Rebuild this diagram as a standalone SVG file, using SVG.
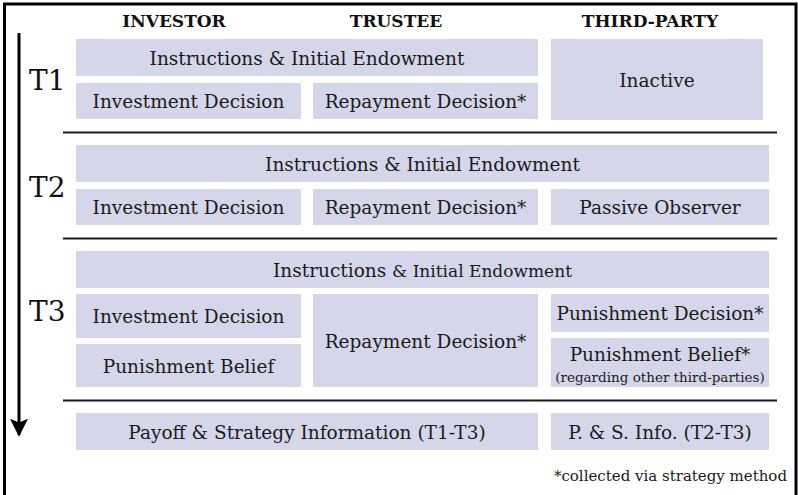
<svg xmlns="http://www.w3.org/2000/svg" width="798" height="495" viewBox="0 0 798 495">
  <style>
    .box { fill: #d6d6ea; }
    .lbl { font-family: "DejaVu Serif", "Liberation Serif", serif; font-size: 18.5px; fill: #1a1a1a; text-anchor: middle; }
    .hdr { font-family: "DejaVu Serif", "Liberation Serif", serif; font-size: 17px; font-weight: bold; fill: #111; text-anchor: middle; }
    .phase { font-family: "DejaVu Serif", "Liberation Serif", serif; font-size: 28px; fill: #111; }
    .small { font-family: "DejaVu Serif", "Liberation Serif", serif; font-size: 13.5px; fill: #1a1a1a; text-anchor: middle; }
    .note { font-family: "DejaVu Serif", "Liberation Serif", serif; font-size: 15px; fill: #1a1a1a; text-anchor: end; }
    .rule { stroke: #1a1a1a; stroke-width: 2; fill: none; }
  </style>
  <defs>
    <marker id="arrowhead" markerWidth="6" markerHeight="6" refX="5.4" refY="3" orient="auto" markerUnits="strokeWidth">
      <path d="M0,0 L6,3 L0,6 L1.2,3 Z" fill="#000"/>
    </marker>
  </defs>

  <rect width="798" height="495" fill="#fff"/>
  <!-- outer frame (open at the bottom) -->
  <path d="M4.5,495 V4 H796 V495" fill="none" stroke="#000" stroke-width="3"/>

  <!-- column headers -->
  <g id="headers">
    <text class="hdr" x="174" y="27">INVESTOR</text>
    <text class="hdr" x="396" y="27">TRUSTEE</text>
    <text class="hdr" x="650" y="27">THIRD-PARTY</text>
  </g>

  <!-- phase labels -->
  <g id="phases">
    <text class="phase" x="29" y="90">T1</text>
    <text class="phase" x="29" y="197">T2</text>
    <text class="phase" x="29" y="321">T3</text>
  </g>

  <!-- timeline arrow and phase dividers -->
  <g id="connectors">
    <line x1="19" y1="33" x2="19" y2="435" stroke="#000" stroke-width="3" marker-end="url(#arrowhead)"/>
    <line class="rule" x1="63" y1="132.5" x2="777" y2="132.5"/>
    <line class="rule" x1="63" y1="238.5" x2="777" y2="238.5"/>
    <line class="rule" x1="63" y1="400.5" x2="777" y2="400.5"/>
  </g>

  <!-- T1 -->
  <g id="t1-instructions">
    <rect class="box" x="76" y="39" width="462" height="37"/>
    <text class="lbl" x="307" y="64.5">Instructions &amp; Initial Endowment</text>
  </g>
  <g id="t1-investment">
    <rect class="box" x="76" y="83" width="225" height="36"/>
    <text class="lbl" x="188.5" y="108">Investment Decision</text>
  </g>
  <g id="t1-repayment">
    <rect class="box" x="313" y="83" width="225" height="36"/>
    <text class="lbl" x="425.5" y="108">Repayment Decision*</text>
  </g>
  <g id="t1-inactive">
    <rect class="box" x="551" y="39" width="212" height="81"/>
    <text class="lbl" x="657" y="86.5">Inactive</text>
  </g>

  <!-- T2 -->
  <g id="t2-instructions">
    <rect class="box" x="76" y="145" width="693" height="37"/>
    <text class="lbl" x="422.5" y="170.5">Instructions &amp; Initial Endowment</text>
  </g>
  <g id="t2-investment">
    <rect class="box" x="76" y="189" width="225" height="36"/>
    <text class="lbl" x="188.5" y="214">Investment Decision</text>
  </g>
  <g id="t2-repayment">
    <rect class="box" x="313" y="189" width="225" height="36"/>
    <text class="lbl" x="425.5" y="214">Repayment Decision*</text>
  </g>
  <g id="t2-observer">
    <rect class="box" x="551" y="189" width="218" height="36"/>
    <text class="lbl" x="660" y="214">Passive Observer</text>
  </g>

  <!-- T3 -->
  <g id="t3-instructions">
    <rect class="box" x="76" y="251" width="693" height="37"/>
    <text class="lbl" x="422.5" y="276.5">Instructions <tspan font-size="17">&amp; Initial Endowment</tspan></text>
  </g>
  <g id="t3-investment">
    <rect class="box" x="76" y="294" width="225" height="44"/>
    <text class="lbl" x="188.5" y="323">Investment Decision</text>
  </g>
  <g id="t3-belief-investor">
    <rect class="box" x="76" y="344" width="225" height="43"/>
    <text class="lbl" x="188.5" y="372.5">Punishment Belief</text>
  </g>
  <g id="t3-repayment">
    <rect class="box" x="313" y="294" width="225" height="93"/>
    <text class="lbl" x="425.5" y="347.5">Repayment Decision*</text>
  </g>
  <g id="t3-punishment">
    <rect class="box" x="551" y="294" width="218" height="38"/>
    <text class="lbl" x="660" y="320">Punishment Decision*</text>
  </g>
  <g id="t3-belief-third">
    <rect class="box" x="551" y="338" width="218" height="49"/>
    <text class="lbl" x="660" y="360.5">Punishment Belief*</text>
    <text class="small" x="660" y="381.5">(regarding other third-parties)</text>
  </g>

  <!-- feedback -->
  <g id="feedback-main">
    <rect class="box" x="76" y="413" width="462" height="37"/>
    <text class="lbl" x="307" y="438.5">Payoff &amp; Strategy Information (T1-T3)</text>
  </g>
  <g id="feedback-third">
    <rect class="box" x="551" y="413" width="218" height="37"/>
    <text class="lbl" x="660" y="438.5">P. &amp; S. Info. (T2-T3)</text>
  </g>

  <text class="note" x="787" y="481">*collected via strategy method</text>
</svg>
